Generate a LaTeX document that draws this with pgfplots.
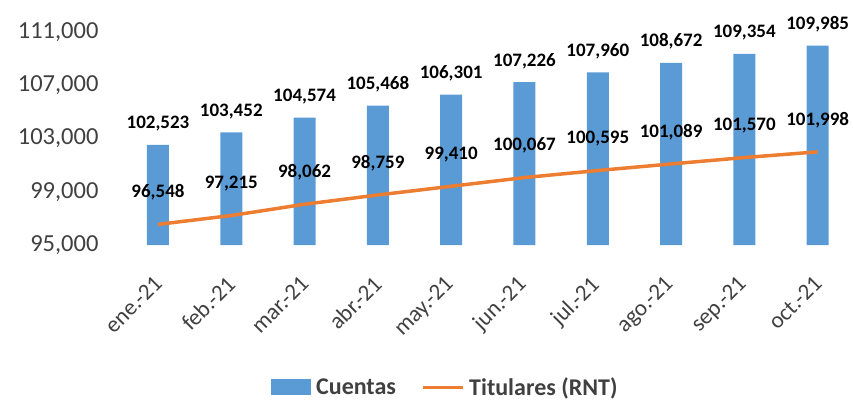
\documentclass[border=0pt]{standalone}
\usepackage{pgfplots}
\pgfplotsset{compat=1.18}
\usepackage{fontspec}
\setmainfont{Carlito}
\definecolor{barblue}{HTML}{5B9BD5}
\definecolor{lineor}{HTML}{ED7D31}
\definecolor{txt}{HTML}{404040}
\pgfplotstableread{
x y l
0 102523 102,523
1 103452 103,452
2 104574 104,574
3 105468 105,468
4 106301 106,301
5 107226 107,226
6 107960 107,960
7 108672 108,672
8 109354 109,354
9 109985 109,985
}\cuentas
\pgfplotstableread{
x y l
0 96548 96,548
1 97215 97,215
2 98062 98,062
3 98759 98,759
4 99410 99,410
5 100067 100,067
6 100595 100,595
7 101089 101,089
8 101570 101,570
9 101998 101,998
}\titulares
\newcommand{\rl}[1]{\rotatebox{45}{#1}}
\begin{document}
\begin{tikzpicture}
\useasboundingbox (-114pt,-155pt) rectangle (739pt,245pt);
\begin{axis}[
  at={(0pt,0pt)}, anchor=south west,
  scale only axis, width=733pt, height=213pt,
  xmin=-0.6, xmax=9.4, ymin=95000, ymax=111000,
  axis line style={draw=none}, tick style={draw=none},
  ytick={95000,99000,103000,107000,111000},
  yticklabels={{95,000},{99,000},{103,000},{107,000},{111,000}},
  scaled y ticks=false,
  yticklabel style={font=\fontsize{24.5}{24.5}\selectfont, text=txt, xshift=-12pt},
  xtick={0,...,9},
  xticklabels={\rl{ene.-21},\rl{feb.-21},\rl{mar.-21},\rl{abr.-21},\rl{may.-21},\rl{jun.-21},\rl{jul.-21},\rl{ago.-21},\rl{sep.-21},\rl{oct.-21}},
  xticklabel style={anchor=north east, font=\fontsize{23}{23}\selectfont, text=txt, xshift=9pt, yshift=-26pt},
  legend columns=2,
  legend style={at={(0.452,-0.667)}, anchor=center, draw=none, fill=none, font=\bfseries\fontsize{24}{24}\selectfont, text=txt,
    /tikz/every even column/.append style={column sep=24pt}},
  clip=false,
]
\addplot[ybar, bar width=22pt, fill=barblue, draw=none,
  nodes near coords, point meta=explicit symbolic,
  every node near coord/.style={font=\bfseries\fontsize{19}{19}\selectfont, text=black, anchor=south, yshift=10pt},
  legend image code/.code={\fill[barblue] (0pt,-8pt) rectangle (40pt,8pt); \path (43pt,0pt);}]
  table[x=x, y=y, meta=l]{\cuentas};
\addlegendentry{Cuentas}
\addplot[lineor, line width=3.5pt, mark=none,
  nodes near coords, point meta=explicit symbolic,
  every node near coord/.style={font=\bfseries\fontsize{19}{19}\selectfont, text=black, anchor=south, yshift=19pt},
  legend image code/.code={\draw[lineor, line width=3pt] (0pt,0pt) -- (40pt,0pt); \path (42pt,0pt);}]
  table[x=x, y=y, meta=l]{\titulares};
\addlegendentry{Titulares (RNT)}
\end{axis}
\end{tikzpicture}
\end{document}
